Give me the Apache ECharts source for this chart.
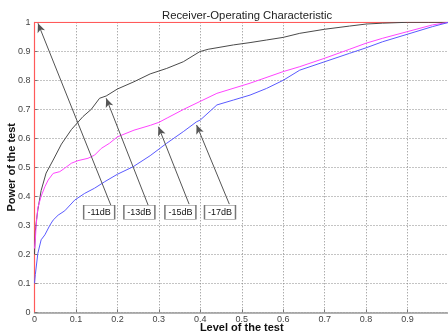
<!DOCTYPE html>
<html><head><meta charset="utf-8">
<script src="https://cdn.jsdelivr.net/npm/echarts@6/dist/echarts.min.js"></script>
<style>html,body{margin:0;padding:0;background:#fff}#c{width:448px;height:335px}</style>
</head><body><div id="c"></div>
<script>
const titleText = 'Receiver-Operating Characteristic';
const xName = 'Level of the test';
const yName = 'Power of the test';

const perfectX = [0, 0, 1];
const perfectY = [0, 1, 1];

const db11X = [0, 0.002, 0.005, 0.008, 0.016, 0.028, 0.045, 0.065, 0.089, 0.117, 0.137, 0.157, 0.173, 0.2, 0.24, 0.279, 0.319, 0.359, 0.399, 0.419, 0.48, 0.52, 0.56, 0.60, 0.64, 0.70, 0.76, 0.80, 0.84, 0.90, 0.95, 1.0];
const db11Y = [0.2, 0.28, 0.32, 0.353, 0.42, 0.48, 0.525, 0.58, 0.63, 0.675, 0.70, 0.738, 0.746, 0.77, 0.795, 0.822, 0.841, 0.864, 0.899, 0.907, 0.922, 0.930, 0.939, 0.948, 0.962, 0.976, 0.987, 0.994, 0.997, 1.0, 1.0, 1.0];

const db15X = [0, 0.002, 0.004, 0.008, 0.016, 0.025, 0.033, 0.045, 0.061, 0.073, 0.089, 0.105, 0.129, 0.145, 0.161, 0.181, 0.2, 0.24, 0.28, 0.30, 0.32, 0.36, 0.44, 0.52, 0.60, 0.64, 0.70, 0.76, 0.80, 0.84, 0.90, 0.96, 1.0];
const db15Y = [0.22, 0.25, 0.3, 0.36, 0.40, 0.433, 0.456, 0.479, 0.485, 0.497, 0.514, 0.523, 0.531, 0.542, 0.565, 0.583, 0.605, 0.628, 0.645, 0.655, 0.67, 0.70, 0.755, 0.79, 0.83, 0.847, 0.876, 0.907, 0.928, 0.945, 0.968, 0.991, 1.0];

const db17X = [0, 0.002, 0.008, 0.016, 0.025, 0.037, 0.045, 0.057, 0.073, 0.097, 0.121, 0.145, 0.169, 0.2, 0.238, 0.279, 0.319, 0.359, 0.391, 0.40, 0.44, 0.48, 0.52, 0.56, 0.60, 0.64, 0.70, 0.76, 0.80, 0.84, 0.90, 0.96, 1.0];
const db17Y = [0.1, 0.13, 0.203, 0.25, 0.267, 0.30, 0.318, 0.335, 0.35, 0.387, 0.41, 0.428, 0.45, 0.476, 0.502, 0.54, 0.583, 0.623, 0.657, 0.663, 0.715, 0.732, 0.749, 0.772, 0.80, 0.835, 0.864, 0.893, 0.912, 0.933, 0.959, 0.985, 1.0];

// annotations: label, box centre (data coords), arrow start, arrow tip
const annLabels = ['-11dB', '-13dB', '-15dB', '-17dB'];
const annBoxX = [0.156, 0.253, 0.352, 0.4475];
const annBoxY = [0.345, 0.345, 0.345, 0.345];
const annFromX = [0.184, 0.274, 0.373, 0.47];
const annFromY = [0.37, 0.37, 0.373, 0.373];
const annTipX = [0.0084, 0.173, 0.299, 0.391];
const annTipY = [0.9966, 0.738, 0.64, 0.646];

const xTicks = [0, 0.1, 0.2, 0.3, 0.4, 0.5, 0.6, 0.7, 0.8, 0.9];

const zip = (a, b) => a.map((v, i) => [v, b[i]]);
const font = 'Liberation Sans, Arial, sans-serif';

const chart = echarts.init(document.getElementById('c'), null, {renderer: 'canvas'});
chart.setOption({
  animation: false,
  backgroundColor: '#fff',
  title: {
    text: titleText, left: 157, top: 5,
    textStyle: {fontFamily: font, fontSize: 11.3, fontWeight: 'normal', color: '#222'}
  },
  grid: {left: 34.5, top: 22.3, width: 414.5, height: 290, containLabel: false, outerBoundsMode: 'none'},
  xAxis: {
    type: 'value', min: 0, max: 1, interval: 0.1,
    name: xName, nameLocation: 'middle', nameGap: 10, nameMoveOverlap: false,
    nameTextStyle: {fontFamily: font, fontSize: 11, fontWeight: 'bold', color: '#111'},
    axisLine: {lineStyle: {color: '#999', width: 1.5}},
    axisTick: {show: true, inside: true, length: 3, lineStyle: {color: '#777'}},
    axisLabel: {margin: 3, fontFamily: font, fontSize: 9, color: '#444', hideOverlap: false,
      formatter: v => xTicks.some(t => Math.abs(t - v) < 1e-9) ? String(+v.toFixed(1)) : ''},
    splitLine: {show: true, lineStyle: {color: '#888', type: [1, 2], width: 1}}
  },
  yAxis: {
    type: 'value', min: 0, max: 1, interval: 0.1,
    name: yName, nameLocation: 'middle', nameGap: 17, nameMoveOverlap: false,
    nameTextStyle: {fontFamily: font, fontSize: 11, fontWeight: 'bold', color: '#111'},
    axisLine: {show: true, lineStyle: {color: '#999', width: 1}},
    axisTick: {show: true, inside: true, length: 3, lineStyle: {color: '#777'}},
    axisLabel: {margin: 4, fontFamily: font, fontSize: 9, color: '#444', hideOverlap: false,
      formatter: v => String(+v.toFixed(1))},
    splitLine: {show: true, lineStyle: {color: '#888', type: [1, 2], width: 1}}
  },
  series: [
    {type: 'line', data: zip(perfectX, perfectY), showSymbol: false, z: 2,
     lineStyle: {color: '#ff5a5a', width: 1.2}},
    {type: 'line', data: zip(db11X, db11Y), showSymbol: false, z: 3,
     lineStyle: {color: '#4a4a4a', width: 1}},
    {type: 'line', data: zip(db15X, db15Y), showSymbol: false, z: 3,
     lineStyle: {color: '#ff44ff', width: 1}},
    {type: 'line', data: zip(db17X, db17Y), showSymbol: false, z: 3,
     lineStyle: {color: '#5a5aff', width: 1}},
    {type: 'line', data: [], z: 5, silent: true,
     markLine: {
       silent: true, symbol: ['none', 'arrow'], symbolSize: [6, 9],
       label: {show: false},
       lineStyle: {color: '#555', width: 1, type: 'solid'},
       data: annLabels.map((l, i) => [
         {coord: [annFromX[i], annFromY[i]]},
         {coord: [annTipX[i], annTipY[i]]}
       ])
     },
     markPoint: {
       silent: true, symbol: 'rect', symbolSize: [31, 14],
       itemStyle: {color: '#fff', borderColor: '#777', borderWidth: 1},
       label: {show: true, position: 'inside', fontFamily: font, fontSize: 9, color: '#111',
         formatter: p => p.name},
       data: annLabels.map((l, i) => ({name: l, coord: [annBoxX[i], annBoxY[i]]}))
     }}
  ]
});
</script></body></html>
